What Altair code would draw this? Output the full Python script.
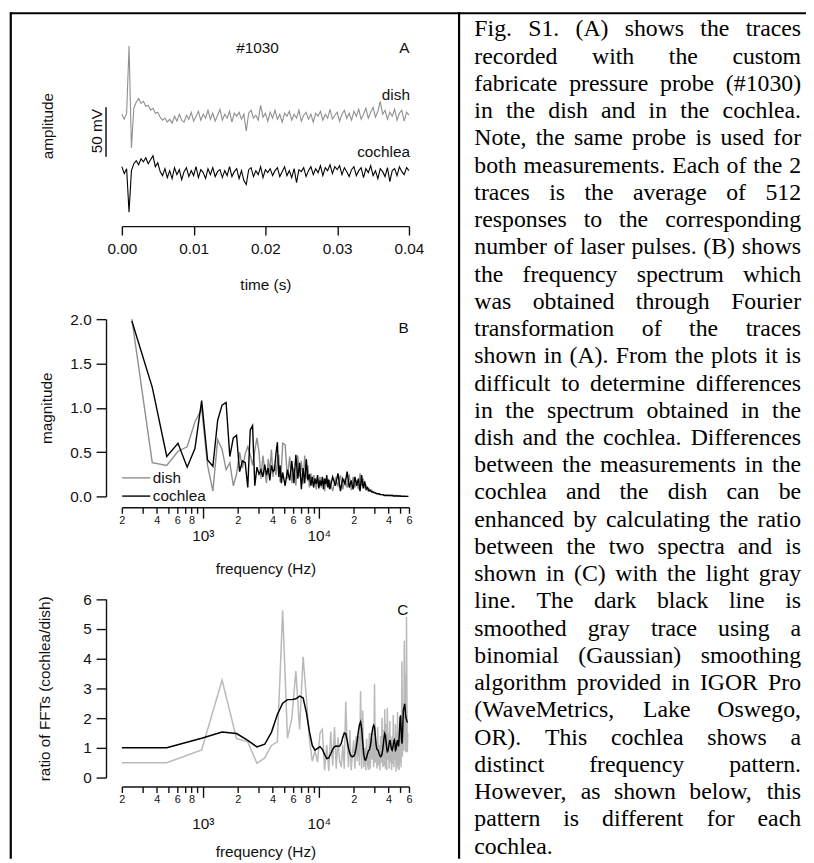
import altair as alt
import pandas as pd

# ---------------- Panel A : averaged pressure traces (mV) ----------------
A_DT = 0.04 / 120            # spacing of the digitised samples (s)
A_DISH = [2, -3, 3, 71, -32, 8, 14, 18, 13, 15,
          10, 11, 6, 8, 3, 4, -1, -4, -2, -6,
          -3, -7, 0, -5, 2, -4, -6, 1, -3, 4,
          -5, 0, 5, -4, 2, -2, 6, -3, 3, -5,
          1, 7, -4, 2, -2, 5, -6, 3, 0, 4,
          -3, 2, -15, 3, 6, -2, 1, -4, 11, -1,
          3, -5, 4, -2, 6, -3, 2, -6, 3, 0,
          5, -4, 2, -2, 6, -5, 1, 4, -3, 2,
          -6, 3, 0, 5, -4, 2, -2, 7, -3, 1,
          4, -5, 2, 6, -2, 3, -4, 5, 0, 7,
          -3, 2, 8, -2, 4, 9, -1, 5, 15, 2,
          6, -3, 4, 0, 7, -4, 3, 6, -5, 4,
          1]
A_COCHLEA = [6, -1, 4, -40, 2, 9, 12, 8, 14, 11,
             15, 9, 13, 17, 6, 10, 1, -3, 4, -5,
             2, -6, 5, -2, 3, -7, 1, 5, -4, 2,
             -3, 6, -5, 3, 0, -6, 4, -2, 5, -4,
             1, 3, -5, 2, -3, 6, -4, 1, 4, -6,
             2, -8, -12, 3, 5, -4, 2, -2, 6, -5,
             3, 0, 4, -3, 2, 5, -4, 1, 6, -3,
             2, -5, 4, -10, 3, 1, 5, -4, 2, 6,
             -2, 4, 0, 7, -3, 5, 2, 8, -1, 6,
             3, 7, -2, 5, 1, -4, 3, 6, -3, 2,
             5, -5, 4, 0, 7, -3, 2, -6, 4, 1,
             -4, 5, -9, 2, 4, -3, 6, 1, -2, 5,
             2]
A_COCHLEA_SHIFT = -57        # display separation of the two traces (mV)
A_TIME_TICKS = [0.0, 0.01, 0.02, 0.03, 0.04]
A_SCALEBAR = [-41, 9]        # 50 mV bar

# ---------------- Panel B : FFT magnitude ----------------
B_BIN_HZ = 122.0
B_BINS = list(range(2, 41)) + list(range(42, 101, 2)) + list(range(102, 487, 6))
B_DISH = [2.00, 0.38, 0.35, 0.51, 0.56, 0.84, 0.99, 0.35, 0.06, 0.64, 0.53, 0.30, 0.38,
          0.12, 0.25, 0.50, 0.32, 0.48, 0.56, 0.47, 0.35, 0.52, 0.66, 0.50, 0.20, 0.46,
          0.30, 0.15, 0.42, 0.28, 0.53, 0.22, 0.36, 0.24, 0.40, 0.47, 0.16, 0.30, 0.60,
          0.58, 0.20, 0.45, 0.15, 0.32, 0.12, 0.46, 0.22, 0.40, 0.14, 0.46, 0.20, 0.35,
          0.10, 0.26, 0.12, 0.24, 0.18, 0.08, 0.20, 0.14, 0.22, 0.10, 0.16, 0.20, 0.06,
          0.18, 0.12, 0.20, 0.09,
          0.18, 0.06, 0.20, 0.12, 0.24, 0.08, 0.20, 0.10, 0.25, 0.07,
          0.22, 0.10, 0.18, 0.08, 0.26, 0.12, 0.20, 0.10,
          0.12, 0.07, 0.09, 0.06, 0.07, 0.05,
          0.05, 0.04, 0.04, 0.03, 0.03, 0.03, 0.02, 0.02, 0.02,
          0.015, 0.015, 0.015, 0.015, 0.015, 0.015,
          0.01, 0.01, 0.01, 0.01, 0.01, 0.01, 0.01, 0.01, 0.01, 0.01,
          0.005, 0.005, 0.005, 0.005, 0.005, 0.005, 0.005, 0.005, 0.005, 0.005,
          0.0, 0.0, 0.0, 0.0, 0.0, 0.0]
B_COCHLEA = [1.98, 1.23, 0.45, 0.60, 0.33, 0.54, 1.08, 0.41, 0.34, 0.86, 1.03, 1.06, 0.45,
             0.66, 0.69, 0.28, 0.40, 0.38, 0.10, 0.75, 0.80, 0.12, 0.33, 0.25, 0.30, 0.22,
             0.36, 0.24, 0.32, 0.18, 0.35, 0.28, 0.30, 0.48, 0.61, 0.22, 0.35, 0.15, 0.27,
             0.12, 0.30, 0.18, 0.40, 0.15, 0.47, 0.20, 0.38, 0.08, 0.32, 0.15, 0.42, 0.18,
             0.25, 0.12, 0.22, 0.10, 0.20, 0.14, 0.24, 0.09, 0.18, 0.12, 0.22, 0.08, 0.20,
             0.14, 0.24, 0.10, 0.19,
             0.08, 0.22, 0.12, 0.26, 0.06, 0.20, 0.14, 0.28, 0.10, 0.18,
             0.08, 0.22, 0.12, 0.20, 0.06, 0.24, 0.09, 0.17,
             0.08, 0.10, 0.06, 0.07, 0.05, 0.05,
             0.04, 0.04, 0.03, 0.03, 0.03, 0.02, 0.02, 0.02, 0.02,
             0.01, 0.01, 0.01, 0.01, 0.01, 0.01, 0.01, 0.01, 0.01, 0.01,
             0.005, 0.005, 0.005, 0.005, 0.005, 0.005, 0.005, 0.005, 0.005, 0.005,
             0.0, 0.0, 0.0, 0.0, 0.0, 0.0, 0.0, 0.0, 0.0, 0.0, 0.0, 0.0]
B_Y_TICKS = [0.0, 0.5, 1.0, 1.5, 2.0]

# ---------------- Panel C : ratio of FFTs ----------------
C_FREQ = [200.0] + [488.0 * m for m in range(1, 121)]
C_RATIO = [0.50, 0.50, 0.93, 3.28, 1.31, 1.20, 0.48, 0.66, 1.08, 1.20,
           5.62, 1.32, 2.00, 3.58, 1.62, 4.06, 2.70, 1.30, 0.55, 0.90,
           0.52, 1.50, 1.62, 0.25, 1.10, 0.22, 1.55, 0.40, 1.70, 0.30,
           1.35, 0.55, 0.35, 1.10, 0.30, 2.55, 1.20, 0.35, 1.60, 0.25,
           0.80, 1.25, 0.30, 1.40, 0.55, 1.40, 0.40, 2.90, 0.30, 2.25,
           0.35, 1.00, 0.25, 1.30, 0.45, 0.25, 1.50, 0.30, 1.50, 0.60,
           1.30, 0.35, 3.15, 0.50, 1.20, 0.30, 1.70, 0.40, 1.10, 0.25,
           1.40, 0.50, 2.00, 0.35, 1.60, 0.40, 2.30, 0.30, 1.80, 0.25,
           2.35, 0.60, 1.50, 0.30, 1.90, 0.50, 1.30, 0.25, 1.40, 0.45,
           2.10, 0.35, 1.20, 0.60, 1.80, 0.20, 1.50, 0.40, 2.20, 0.30,
           1.20, 0.25, 1.60, 0.50, 2.00, 0.35, 1.60, 3.90, 0.70, 2.50,
           2.00, 0.90, 4.60, 1.20, 3.50, 0.85, 1.00, 5.40, 2.60, 0.85,
           1.50]
C_SMOOTH = [1.00, 1.00, 1.32, 1.53, 1.48, 1.25, 1.03, 1.12, 1.52, 2.12,
            2.50, 2.62, 2.62, 2.65, 2.74, 2.68, 2.20, 1.55, 1.08, 0.92,
            0.98, 1.04, 0.95, 0.78, 0.64, 0.66, 0.80, 0.95, 1.04, 1.06,
            1.05, 1.06, 1.15, 1.35, 1.50, 1.48, 1.25, 0.98, 0.81, 0.72,
            0.70, 0.72, 0.80, 0.98, 1.25, 1.55, 1.78, 1.87, 1.65, 1.20,
            0.80, 0.60, 0.59, 0.68, 0.80, 0.90, 0.93, 1.05, 1.25, 1.50,
            1.68, 1.76, 1.70, 1.40, 1.10, 0.95, 0.94, 0.88, 0.80, 0.74,
            0.70, 0.72, 0.80, 0.95, 1.15, 1.35, 1.48, 1.42, 1.20, 0.98,
            0.87, 0.90, 1.02, 1.15, 1.26, 1.20, 1.05, 0.95, 0.92, 0.98,
            1.10, 1.22, 1.26, 1.15, 0.92, 0.95, 1.08, 1.20, 1.26, 1.15,
            1.05, 1.30, 1.65, 2.00, 2.09, 1.70, 1.30, 1.14, 1.40, 1.85,
            2.26, 2.35, 2.40, 2.48, 2.30, 2.10, 2.00, 1.95, 1.90, 1.87,
            1.87]
C_Y_TICKS = [0, 1, 2, 3, 4, 5, 6]

LOG_MINOR = [200, 300, 400, 500, 600, 700, 800, 900,
             2000, 3000, 4000, 5000, 6000, 7000, 8000, 9000,
             20000, 30000, 40000, 50000, 60000]
LOG_DECADES = [1000, 10000]

CAPTION = [
    "Fig. S1. (A) shows the traces",
    "recorded with the custom",
    "fabricate pressure probe (#1030)",
    "in the dish and in the cochlea.",
    "Note, the same probe is used for",
    "both measurements. Each of the 2",
    "traces is the average of 512",
    "responses to the corresponding",
    "number of laser pulses. (B) shows",
    "the frequency spectrum which",
    "was obtained through Fourier",
    "transformation of the traces",
    "shown in (A). From the plots it is",
    "difficult to determine differences",
    "in the spectrum obtained in the",
    "dish and the cochlea. Differences",
    "between the measurements in the",
    "cochlea and the dish can be",
    "enhanced by calculating the ratio",
    "between the two spectra and is",
    "shown in (C) with the light gray",
    "line. The dark black line is",
    "smoothed gray trace using a",
    "binomial (Gaussian) smoothing",
    "algorithm provided in IGOR Pro",
    "(WaveMetrics, Lake Oswego,",
    "OR). This cochlea shows a",
    "distinct frequency pattern.",
    "However, as shown below, this",
    "pattern is different for each",
    "cochlea.",
]

assert len(A_DISH) == len(A_COCHLEA) == 121
assert len(B_DISH) == len(B_COCHLEA) == len(B_BINS)
assert len(C_RATIO) == len(C_SMOOTH) == len(C_FREQ)

# ---------------- layout helpers ----------------
W, H = 806, 855
M = 8


def X(p):
    return p - M


def Y(p):
    return p - M


SANS = "Liberation Sans"
SERIF = "Liberation Serif"
FS = 15.5
INK = "#111111"


def axstyle(**kw):
    d = dict(domainColor=INK, tickColor=INK, domainWidth=1.4, tickWidth=1.4,
             labelColor=INK, labelFont=SANS, labelFontSize=FS, titleFont=SANS,
             titleFontSize=FS, titleFontWeight="normal", titleColor=INK,
             grid=False, labelFlush=False, labelOverlap=False)
    d.update(kw)
    return alt.Axis(**d)


def label(txt, x, y, size=FS, align="center", baseline="alphabetic", angle=0,
          font=SANS, color=INK):
    return alt.Chart(pd.DataFrame({"label": [txt]})).mark_text(
        align=align, baseline=baseline, angle=angle, font=font, fontSize=size,
        color=color).encode(x=alt.value(X(x)), y=alt.value(Y(y)), text="label:N")


def hline(x1, x2, y, color, w):
    return alt.Chart(pd.DataFrame({"a": [0]})).mark_rule(color=color, strokeWidth=w).encode(
        x=alt.value(X(x1)), x2=alt.value(X(x2)), y=alt.value(Y(y)))


def vline(x, y1, y2, color, w):
    return alt.Chart(pd.DataFrame({"a": [0]})).mark_rule(color=color, strokeWidth=w).encode(
        x=alt.value(X(x)), y=alt.value(Y(y1)), y2=alt.value(Y(y2)))


MINOR_EXPR = ("indexof(['2','4','6','8'], substring(toString(datum.value), 0, 1)) >= 0 ? "
              "substring(toString(datum.value), 0, 1) : ''")
DECADE_EXPR = "datum.value == 1000 ? '10\u00b3' : '10\u2074'"

layers = []

# borders of the table cell
layers.append(hline(10, 814, 9, "#000", 2))
layers.append(vline(10.8, 8, 863, "#000", 2.2))
layers.append(vline(463.6, 8, 863, "#000", 2.2))

# ---------------- Panel A ----------------
dfA = pd.DataFrame({
    "t": [i * A_DT for i in range(len(A_DISH))] + [i * A_DT for i in range(len(A_COCHLEA))],
    "v": A_DISH + [v + A_COCHLEA_SHIFT for v in A_COCHLEA],
    "s": ["dish"] * len(A_DISH) + ["cochlea"] * len(A_COCHLEA),
})
sAx = alt.Scale(domain=[0, 0.04], range=[X(123), X(413)], nice=False, zero=False)
sAy = alt.Scale(domain=[-100, 100], range=[Y(113) + 100, Y(113) - 100], nice=False, zero=False)

layers.append(alt.Chart(dfA).mark_line(strokeWidth=1.1).encode(
    x=alt.X("t:Q", scale=sAx, axis=axstyle(orient="bottom", offset=Y(224) - H,
                                             values=A_TIME_TICKS, format=".2f", tickSize=9,
                                             labelPadding=7, title="time (s)", titlePadding=21)),
    y=alt.Y("v:Q", scale=sAy, axis=None),
    color=alt.Color("s:N", scale=alt.Scale(domain=["dish", "cochlea"],
                                           range=["#8f8f8f", "#000000"]), legend=None),
))
layers.append(alt.Chart(pd.DataFrame({"lo": [A_SCALEBAR[0]], "hi": [A_SCALEBAR[1]]}))
              .mark_rule(color=INK, strokeWidth=1.5).encode(
    x=alt.value(X(107)), y=alt.Y("lo:Q", scale=sAy, axis=None), y2="hi:Q"))
layers.append(label("#1030", 260, 49.3))
layers.append(label("A", 413.5, 49.3, align="right"))
layers.append(label("dish", 414, 96.7, align="right"))
layers.append(label("cochlea", 414, 154, align="right"))
layers.append(label("amplitude", 48.5, 123, angle=270, baseline="middle"))
layers.append(label("50 mV", 98.3, 128, angle=270, baseline="middle"))

# ---------------- Panel B ----------------
fB = [B_BIN_HZ * k for k in B_BINS]
dfB = pd.DataFrame({"f": fB + fB, "m": B_DISH + B_COCHLEA,
                    "s": ["dish"] * len(fB) + ["cochlea"] * len(fB)})
sBx = alt.Scale(type="log", domain=[200, 60000], range=[X(123), X(413)], nice=False)
sBy = alt.Scale(domain=[0, 2], range=[Y(497), Y(318)], nice=False, zero=False)

layers.append(alt.Chart(dfB).mark_line(strokeWidth=1.4).encode(
    x=alt.X("f:Q", scale=sBx, axis=axstyle(orient="bottom", offset=Y(508) - H,
                                             values=LOG_MINOR, tickSize=6, labelFontSize=11,
                                             labelPadding=1, labelExpr=MINOR_EXPR, title=None)),
    y=alt.Y("m:Q", scale=sBy, axis=axstyle(orient="left", offset=-X(107), values=B_Y_TICKS,
                                             format=".1f", tickSize=10, labelPadding=5,
                                             title="magnitude", titlePadding=16)),
    color=alt.Color("s:N", scale=alt.Scale(domain=["dish", "cochlea"],
                                           range=["#8f8f8f", "#000000"]), legend=None),
))
layers.append(alt.Chart(pd.DataFrame({"f": LOG_DECADES})).mark_point(opacity=0).encode(
    x=alt.X("f:Q", scale=sBx, axis=axstyle(orient="bottom", offset=Y(508) - H,
                                             values=LOG_DECADES, tickSize=11, labelPadding=11,
                                             labelExpr=DECADE_EXPR, domain=False,
                                             title="frequency (Hz)", titlePadding=17))))
layers.append(label("B", 412.7, 331.7, align="right"))
layers.append(hline(123.3, 151.7, 478.3, "#8f8f8f", 1.4))
layers.append(hline(123.3, 151.7, 496.7, "#000000", 1.4))
layers.append(label("dish", 154.3, 483.3, align="left"))
layers.append(label("cochlea", 154.3, 501.7, align="left"))

# ---------------- Panel C ----------------
dfC = pd.DataFrame({"f": C_FREQ + C_FREQ, "r": C_RATIO + C_SMOOTH,
                    "s": ["ratio"] * len(C_FREQ) + ["smoothed"] * len(C_FREQ)})
sCx = alt.Scale(type="log", domain=[200, 60000], range=[X(123), X(413)], nice=False)
sCy = alt.Scale(domain=[0, 6], range=[Y(781), Y(600.7)], nice=False, zero=False)

layers.append(alt.Chart(dfC).mark_line(strokeWidth=1.5).encode(
    x=alt.X("f:Q", scale=sCx, axis=axstyle(orient="bottom", offset=Y(790) - H,
                                             values=LOG_MINOR, tickSize=6, labelFontSize=11,
                                             labelPadding=1, labelExpr=MINOR_EXPR, title=None)),
    y=alt.Y("r:Q", scale=sCy, axis=axstyle(orient="left", offset=-X(107), values=C_Y_TICKS,
                                             format="d", tickSize=10, labelPadding=5,
                                             title="ratio of FFTs (cochlea/dish)",
                                             titlePadding=30)),
    color=alt.Color("s:N", scale=alt.Scale(domain=["ratio", "smoothed"],
                                           range=["#b9b9b9", "#000000"]), legend=None),
))
layers.append(alt.Chart(pd.DataFrame({"f": LOG_DECADES})).mark_point(opacity=0).encode(
    x=alt.X("f:Q", scale=sCx, axis=axstyle(orient="bottom", offset=Y(790) - H,
                                             values=LOG_DECADES, tickSize=11, labelPadding=19,
                                             labelExpr=DECADE_EXPR, domain=False,
                                             title="frequency (Hz)", titlePadding=13))))
layers.append(label("C", 412.3, 616.7, align="right"))

# ---------------- caption (justified Times text) ----------------
TIMES = {
    'a': 444, 'b': 500, 'c': 444, 'd': 500, 'e': 444, 'f': 333, 'g': 500, 'h': 500,
    'i': 278, 'j': 278, 'k': 500, 'l': 278, 'm': 778, 'n': 500, 'o': 500, 'p': 500,
    'q': 500, 'r': 333, 's': 389, 't': 278, 'u': 500, 'v': 500, 'w': 722, 'x': 500,
    'y': 500, 'z': 444,
    'A': 722, 'B': 667, 'C': 667, 'D': 722, 'E': 611, 'F': 556, 'G': 722, 'H': 722,
    'I': 333, 'J': 389, 'K': 722, 'L': 611, 'M': 889, 'N': 722, 'O': 722, 'P': 556,
    'Q': 722, 'R': 667, 'S': 556, 'T': 611, 'U': 722, 'V': 722, 'W': 944, 'X': 722,
    'Y': 722, 'Z': 611,
    '.': 250, ',': 250, '(': 333, ')': 333, '#': 500, '/': 278, '-': 333, ' ': 250,
}
CAP_FS = 24
CAP_L, CAP_R = 479, 809
CAP_Y0, CAP_DY = 32.3, 27.52


def tw(word):
    return sum(TIMES.get(ch, 500) for ch in word) * CAP_FS / 1000.0


left_rows, right_rows = [], []
for i, line in enumerate(CAPTION):
    words = line.split(" ")
    yb = Y(CAP_Y0 + CAP_DY * i)
    if i == len(CAPTION) - 1 or len(words) == 1:
        left_rows.append({"w": line, "x": X(CAP_L), "y": yb})
        continue
    widths = [tw(w) for w in words]
    gap = (CAP_R - CAP_L - sum(widths)) / (len(words) - 1)
    xx = CAP_L
    for j, w in enumerate(words[:-1]):
        left_rows.append({"w": w, "x": X(xx), "y": yb})
        xx += widths[j] + gap
    right_rows.append({"w": words[-1], "x": X(CAP_R), "y": yb})

for rows, al in ((left_rows, "left"), (right_rows, "right")):
    layers.append(alt.Chart(pd.DataFrame(rows)).mark_text(
        align=al, baseline="alphabetic", font=SERIF, fontSize=CAP_FS, color="#000").encode(
        x=alt.X("x:Q", scale=None, axis=None),
        y=alt.Y("y:Q", scale=None, axis=None),
        text="w:N"))

chart = (alt.layer(*layers)
         .resolve_scale(x="independent", y="independent", color="independent")
         .resolve_axis(x="independent", y="independent")
         .properties(width=W, height=H, autosize=alt.AutoSizeParams(type="none"),
                     padding=0, background="white")
         .configure_view(stroke=None))

chart.save("out.html", embed_options={"renderer": "svg", "actions": False})
